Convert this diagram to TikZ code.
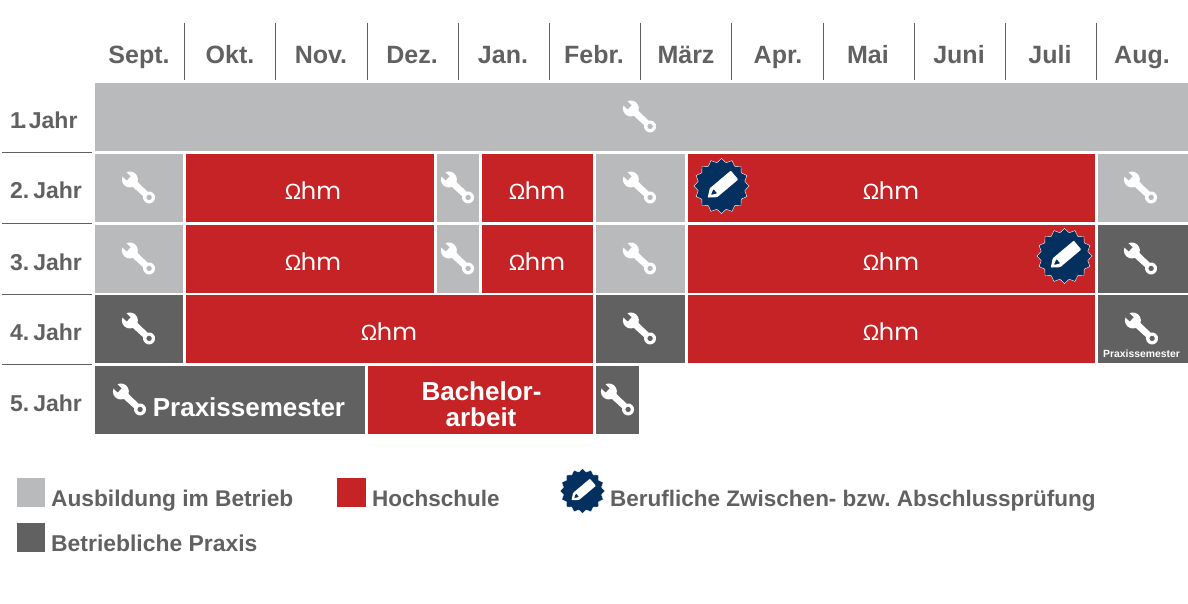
\documentclass[tikz,border=0pt]{standalone}
\usepackage{fontspec}
\setmainfont{Liberation Sans}
\newfontfamily\ohmfont{Poppins}
\usepackage{tikz}
\usetikzlibrary{positioning,shapes.geometric}
\definecolor{betrieb}{HTML}{B9BABC}
\definecolor{praxis}{HTML}{606160}
\definecolor{hochschule}{HTML}{C62326}
\definecolor{pruefung}{HTML}{03305F}
\newcommand{\ohmword}{{\fontsize{22}{22}\selectfont Ω}\kern-.5pt{\ohmfont hm}}
\frenchspacing
\tikzset{
  cell/.style={anchor=north west,minimum height=68pt,inner sep=0pt,outer sep=0pt},
  month/.style={anchor=base,text=praxis,font=\fontsize{25}{25}\selectfont\bfseries},
  year/.style={anchor=base west,inner sep=0pt,text=praxis,font=\fontsize{23}{23}\selectfont\bfseries},
  ohmlabel/.style={anchor=base,inner sep=0pt,text=white,font=\fontsize{24}{24}\selectfont},
  celltext/.style={anchor=base,inner sep=0pt,text=white,font=\fontsize{26}{26}\selectfont\bfseries},
  legend/.style={anchor=base west,inner sep=0pt,text=praxis,font=\fontsize{22.5}{22.5}\selectfont\bfseries},
  key/.style={anchor=north west,minimum width=28.5pt,minimum height=29pt,inner sep=0pt,outer sep=0pt},
  badge/.style={star,star points=16,star point ratio=1.16,fill=pruefung,draw=white,line width=.4pt,inner sep=0pt,outer sep=0pt},
  rule/.style={line width=1pt,draw=praxis},
  pics/wrench/.style={code={
    \fill[white,even odd rule,x=1pt,y=1pt,rotate=-43,shift={(-12.5,0)}]
      (-7.4,-3) arc[start angle=202,end angle=335,radius=8] -- (21.2,-3.2)
      arc[start angle=212,end angle=508,radius=6] -- (7.25,3.38)
      arc[start angle=25,end angle=158,radius=8] -- (-1.5,3) -- (-1.5,-3) -- cycle
      (26.3,0) circle[radius=2.8];
  }},
  pics/pencil/.style={code={
    \fill[white,even odd rule,x=1pt,y=1pt,rotate=40,scale=#1,rounded corners=.8pt]
      (-18,0) -- (-10.5,-5.8) -- (17,-5.8) -- (17,5.8) -- (-10.5,5.8) -- cycle
      (-14,0) -- (-8,-3) -- (-8,3) -- cycle;
  }},
}
\begin{document}
\begin{tikzpicture}[x=1pt,y=-1pt]
\useasboundingbox (0,0) rectangle (1188,604);
% months
\node[month] (sept) at (139,64) {Sept.};
\node[month] (okt) at (230,64) {Okt.};
\node[month] (nov) at (321,64) {Nov.};
\node[month] (dez) at (412,64) {Dez.};
\node[month] (jan) at (503,64) {Jan.};
\node[month] (feb) at (594,64) {Febr.};
\node[month] (mrz) at (686,64) {März};
\node[month] (apr) at (778,64) {Apr.};
\node[month] (mai) at (868,64) {Mai};
\node[month] (jun) at (959,64) {Juni};
\node[month] (jul) at (1050,64) {Juli};
\node[month] (aug) at (1142,64) {Aug.};
\draw[rule] (184.5,23) -- (184.5,80);
\draw[rule] (275.5,23) -- (275.5,80);
\draw[rule] (367,23) -- (367,80);
\draw[rule] (458,23) -- (458,80);
\draw[rule] (549,23) -- (549,80);
\draw[rule] (640.5,23) -- (640.5,80);
\draw[rule] (731.5,23) -- (731.5,80);
\draw[rule] (823,23) -- (823,80);
\draw[rule] (914,23) -- (914,80);
\draw[rule] (1005,23) -- (1005,80);
\draw[rule] (1096,23) -- (1096,80);
% years
\node[year] (y1) at (10,129) {1\kern-2.5pt.\kern2pt Jahr};
\node[year] (y2) at (10,199) {2.\kern4pt Jahr};
\node[year] (y3) at (10,270) {3.\kern4pt Jahr};
\node[year] (y4) at (10,340) {4.\kern4pt Jahr};
\node[year] (y5) at (10,411) {5.\kern4pt Jahr};
\draw[rule] (2,152.5) -- (92,152.5);
\draw[rule] (2,223) -- (92,223);
\draw[rule] (2,294) -- (92,294);
\draw[rule] (2,364.5) -- (92,364.5);
% row 1
\node[cell,fill=betrieb,minimum width=1093pt] (a1) at (95,83) {};
% row 2
\node[cell,fill=betrieb,minimum width=88pt] (b1) at (95,154) {};
\node[cell,fill=hochschule,minimum width=248pt] (b2) at (186,154) {};
\node[cell,fill=betrieb,minimum width=42pt] (b3) at (437,154) {};
\node[cell,fill=hochschule,minimum width=111pt] (b4) at (482,154) {};
\node[cell,fill=betrieb,minimum width=89pt] (b5) at (596,154) {};
\node[cell,fill=hochschule,minimum width=407pt] (b6) at (688,154) {};
\node[cell,fill=betrieb,minimum width=90pt] (b7) at (1098,154) {};
% row 3
\node[cell,fill=betrieb,minimum width=88pt] (c1) at (95,225) {};
\node[cell,fill=hochschule,minimum width=248pt] (c2) at (186,225) {};
\node[cell,fill=betrieb,minimum width=42pt] (c3) at (437,225) {};
\node[cell,fill=hochschule,minimum width=111pt] (c4) at (482,225) {};
\node[cell,fill=betrieb,minimum width=89pt] (c5) at (596,225) {};
\node[cell,fill=hochschule,minimum width=407pt] (c6) at (688,225) {};
\node[cell,fill=praxis,minimum width=90pt] (c7) at (1098,225) {};
% row 4
\node[cell,fill=praxis,minimum width=88pt] (d1) at (95,295) {};
\node[cell,fill=hochschule,minimum width=407pt] (d2) at (186,295) {};
\node[cell,fill=praxis,minimum width=89pt] (d3) at (596,295) {};
\node[cell,fill=hochschule,minimum width=407pt] (d4) at (688,295) {};
\node[cell,fill=praxis,minimum width=90pt] (d5) at (1098,295) {};
% row 5
\node[cell,fill=praxis,minimum width=270pt] (e1) at (95,366) {};
\node[cell,fill=hochschule,minimum width=225pt] (e2) at (368,366) {};
\node[cell,fill=praxis,minimum width=43pt] (e3) at (596,366) {};
% ohm
\node[ohmlabel] (ohmb2) at (313,199.5) {\ohmword};
\node[ohmlabel] (ohmb4) at (537,199.5) {\ohmword};
\node[ohmlabel] (ohmb6) at (891,199.5) {\ohmword};
\node[ohmlabel] (ohmc2) at (313,270) {\ohmword};
\node[ohmlabel] (ohmc4) at (537,270) {\ohmword};
\node[ohmlabel] (ohmc6) at (891,270) {\ohmword};
\node[ohmlabel] (ohmd2) at (389,340) {\ohmword};
\node[ohmlabel] (ohmd4) at (891,340) {\ohmword};
% wrenches
\pic at (640,117) {wrench};
\pic at (139,188) {wrench};
\pic at (458,188) {wrench};
\pic at (640,188) {wrench};
\pic at (1141,188) {wrench};
\pic at (139,259) {wrench};
\pic at (458,259) {wrench};
\pic at (640,259) {wrench};
\pic at (1141,259) {wrench};
\pic at (139,329) {wrench};
\pic at (640,329) {wrench};
\pic at (1142,329) {wrench};
\pic at (130,400) {wrench};
\pic at (618,400) {wrench};
% texts in cells
\node[anchor=base,inner sep=0pt,text=white,font=\fontsize{10.4}{10.4}\selectfont\bfseries] (praxsmall) at (1141.5,357) {Praxissemester};
\node[celltext] (praxbig) at (249,416) {Praxissemester};
\node[celltext] (bach) at (481.5,400) {Bachelor-};
\node[celltext] (arbeit) at (481,426) {arbeit};
% badges
\node[badge,minimum size=55pt] (zw) at (721.5,186) {};
\pic at (721.5,186) {pencil=1};
\node[badge,minimum size=55pt] (ab) at (1064.5,256) {};
\pic at (1064.5,256) {pencil=1};
% legend
\node[key,fill=betrieb] (k1) at (16.7,478) {};
\node[legend,font=\fontsize{22.7}{22.7}\selectfont\bfseries] (l1) at (51,506) {Ausbildung im Betrieb};
\node[key,fill=hochschule] (k2) at (337,478) {};
\node[legend] (l2) at (372,506) {Hochschule};
\node[badge,minimum size=45pt] (k3) at (582.5,491) {};
\pic at (582.5,491) {pencil=.8};
\node[legend] (l3) at (610,506) {Berufliche Zwischen- bzw. Abschlussprüfung};
\node[key,fill=praxis] (k4) at (16.7,523) {};
\node[legend,font=\fontsize{22.9}{22.9}\selectfont\bfseries] (l4) at (51,551) {Betriebliche Praxis};
\end{tikzpicture}
\end{document}
